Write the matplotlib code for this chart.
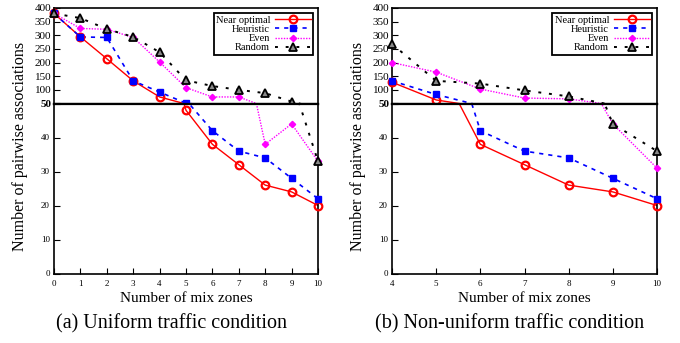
import matplotlib.pyplot as plt
import numpy as np

plt.rcParams['font.family'] = ['Liberation Serif', 'DejaVu Serif']

# (a) uniform traffic, x = 0..10
x_a = [0, 1, 2, 3, 4, 5, 6, 7, 8, 9, 10]
near_a = [380, 294, 214, 133, 74, 48, 38, 32, 26, 24, 20]
heur_a = [380, 294, 292, 133, 92, 51, 42, 36, 34, 28, 22]
even_a = [380, 325, 322, 292, 202, 108, 74, 74, 38, 44, 33]
rand_a = [380, 363, 323, 294, 238, 135, 114, 100, 88, 57, 33]

# (b) non-uniform traffic, x = 4..10
x_b = [4, 5, 6, 7, 8, 9, 10]
near_b = [128, 63, 38, 32, 26, 24, 20]
heur_b = [133, 83, 42, 36, 34, 28, 22]
even_b = [200, 165, 103, 70, 67, 44, 31]
rand_b = [268, 133, 123, 98, 76, 44, 36]

labels = ["Near optimal", "Heuristic", "Even", "Random"]
captions = ["(a) Uniform traffic condition", "(b) Non-uniform traffic condition"]

styles = [
    dict(color="#ff0000", ls="-", lw=1.0, marker="o", ms=5.5, mfc="none", mew=1.6, mec="#ff0000"),
    dict(color="#0000ff", ls=(0, (2.5, 3)), lw=1.2, marker="s", ms=5, mfc="#0000ff", mec="#0000ff"),
    dict(color="#ff00ff", ls=(0, (1, 1)), lw=1.0, marker="D", ms=3.2, mfc="#ff00ff", mec="#ff00ff"),
    dict(color="black", ls=(0, (1.5, 4)), lw=1.4, marker="^", ms=5.5, mfc="#888888", mec="black", mew=1.3),
]

fig = plt.figure(figsize=(6.8, 3.43), dpi=100)

H = 343.0
W = 680.0
top_px, mid_px, bot_px = 8, 103.5, 273.5
panels = [
    (54, 318, x_a, [near_a, heur_a, even_a, rand_a], range(0, 11), (0, 10)),
    (392, 657, x_b, [near_b, heur_b, even_b, rand_b], range(4, 11), (4, 10)),
]

for k, (xl, xr, xs, series, xt, xlim) in enumerate(panels):
    left = xl / W
    width = (xr - xl) / W
    ax_up = fig.add_axes([left, 1 - mid_px / H, width, (mid_px - top_px) / H])
    ax_lo = fig.add_axes([left, 1 - bot_px / H, width, (bot_px - mid_px) / H])

    for ys, st in zip(series, styles):
        ys = np.array(ys, dtype=float)
        xa = np.array(xs, dtype=float)
        line_st = {k2: v for k2, v in st.items() if k2 in ("color", "ls", "lw")}
        mk_st = {k2: v for k2, v in st.items() if k2 not in ("color", "ls", "lw")}
        for ax in (ax_up, ax_lo):
            ax.plot(xa, ys, **line_st, zorder=2)
        up = ys >= 50
        ax_up.plot(xa[up], ys[up], ls="none", clip_on=False, zorder=3, **mk_st)
        ax_lo.plot(xa[~up], ys[~up], ls="none", clip_on=False, zorder=3, **mk_st)

    ax_up.set_ylim(50, 400)
    ax_lo.set_ylim(0, 50)
    for ax in (ax_up, ax_lo):
        ax.set_xlim(*xlim)
        ax.tick_params(direction="in", length=4, width=0.8, labelsize=6.5, pad=3)
        for sp in ax.spines.values():
            sp.set_linewidth(1.2)
    ax_up.set_yticks(range(50, 401, 50))
    ax_up.tick_params(axis="y", labelsize=8, pad=2)
    for t in ax_up.get_yticklabels():
        if t.get_text() == "50":
            t.set_fontweight("bold")
    ax_up.set_xticks(list(xt))
    ax_up.tick_params(axis="x", bottom=False, labelbottom=False)
    ax_lo.set_yticks(range(0, 51, 10))
    ax_lo.set_yticklabels([str(v) if v < 50 else "" for v in range(0, 51, 10)])
    ax_lo.set_xticks(list(xt))
    ax_lo.tick_params(axis="x", pad=5)
    ax_up.spines["bottom"].set_linewidth(1.6)
    ax_lo.spines["top"].set_linewidth(1.6)

    # legend using proxy lines
    handles = []
    for lab, st in zip(labels, styles):
        (h,) = ax_up.plot([], [], label=lab, **st)
        handles.append(h)
    leg = ax_up.legend(handles=handles, loc="upper right", fontsize=7.5, markerfirst=False,
                       frameon=True, fancybox=False, edgecolor="black", framealpha=1,
                       borderpad=0.2, labelspacing=0.0, handlelength=3.4, handletextpad=0.5,
                       borderaxespad=0.5)
    leg.get_frame().set_linewidth(1.3)

    cx = (xl + xr) / 2 / W
    fig.text(cx, 1 - 298 / H, "Number of mix zones", ha="center", va="center", fontsize=11)
    fig.text(xl / W - 0.05, 1 - 146 / H, "Number of pairwise associations",
             ha="center", va="center", rotation=90, fontsize=11.5)
    capx = 171 / W if k == 0 else 510 / W
    fig.text(capx, 1 - 324 / H, captions[k], ha="center", va="center", fontsize=14.5)

fig.savefig("out.png", dpi=100)
